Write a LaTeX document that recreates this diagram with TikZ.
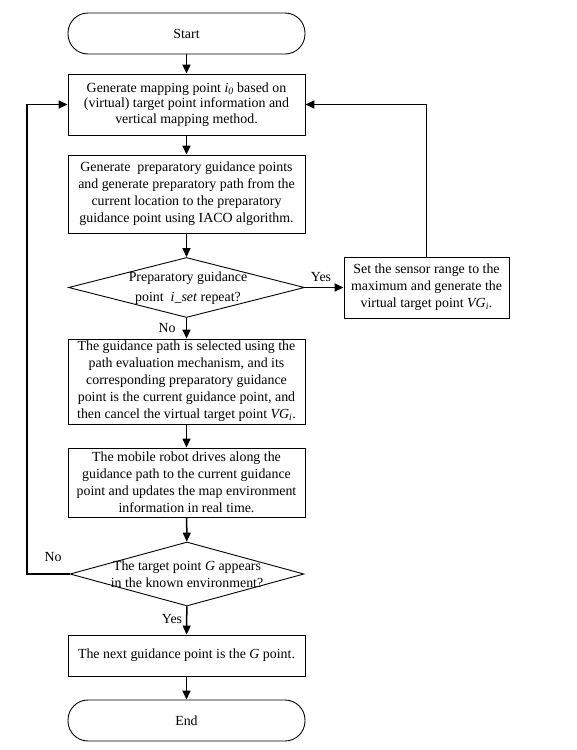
\documentclass[tikz,border=0pt]{standalone}
\usepackage{fontspec}
\setmainfont{Liberation Serif}
\usetikzlibrary{shapes.geometric,arrows.meta}
\newcommand{\iz}{\textit{i}\textsubscript{\textit{0}}}
\newcommand{\vgi}{\textit{VG}\textsubscript{\textit{i}}}
\begin{document}
\begin{tikzpicture}[x=1pt,y=-1pt,
  every node/.style={font=\fontsize{13.9}{17}\selectfont},
  proc/.style={draw,line width=0.9pt,minimum width=237pt,inner sep=0pt,align=center},
  term/.style={draw,line width=0.9pt,minimum width=237pt,minimum height=41pt,rounded corners=20pt,inner sep=0pt},
  dia/.style={draw,line width=0.9pt,diamond,inner sep=0pt,minimum width=236pt,minimum height=60pt},
  lbl/.style={inner sep=0pt,align=center},
  arr/.style={line width=1.5pt,-{Triangle[length=9pt,width=8pt]}}]
\useasboundingbox (0,0) rectangle (576,750);
\node[term] (start) at (186.5,33.5) {Start};
\node[proc,minimum height=61pt,font=\fontsize{13.9}{15.5}\selectfont] (b1) at (186.5,104.5) {Generate mapping point \iz{} based on\\(virtual) target point information and\\vertical mapping method.};
\node[proc,minimum height=78pt] (b2) at (186.5,194) {Generate\ \ preparatory guidance points\\and generate preparatory path from the\\current location to the preparatory\\guidance point using IACO algorithm.};
\node[dia] (d1) at (186.5,287.5) {};
\node[lbl,font=\fontsize{13.9}{20}\selectfont] (d1t) at (188,288) {Preparatory guidance\\point\ \ \textit{i\_set} repeat?};
\node[proc,minimum width=165pt,minimum height=61pt] (rb) at (426.5,287.5) {Set the sensor range to the\\maximum and generate the\\virtual target point \vgi.};
\node[proc,minimum height=85pt] (b3) at (186.5,381.5) {The guidance path is selected using the\\path evaluation mechanism, and its\\corresponding preparatory guidance\\point is the current guidance point, and\\then cancel the virtual target point \vgi.};
\node[proc,minimum height=69pt] (b4) at (186.5,482.5) {The mobile robot drives along the\\guidance path to the current guidance\\point and updates the map environment\\information in real time.};
\node[dia,minimum width=234pt,minimum height=64pt] (d2) at (187,574) {};
\node[lbl] (d2t) at (187,574.5) {The target point \textit{G} appears\\in the known environment?};
\node[proc,minimum height=41pt] (b5) at (186.5,655.5) {The next guidance point is the \textit{G} point.};
\node[term] (end) at (186.5,720.5) {End};
\coordinate (lx) at (27,0);
\node[lbl] (yes1) at (321,277) {Yes};
\node[lbl] (no1) at (167,328) {No};
\node[lbl] (no2) at (53,557) {No};
\node[lbl] (yes2) at (172,619) {Yes};
\draw[arr] (start) -- (b1);
\draw[arr] (b1) -- (b2);
\draw[arr] (b2) -- (d1);
\draw[arr] (d1) -- (b3);
\draw[arr] (b3) -- (b4);
\draw[arr] (b4) -- (d2);
\draw[arr] (d2) -- (b5);
\draw[arr] (b5) -- (end);
\draw[arr] (d1.east) -- (rb.west);
\draw[arr] (rb.north) |- (b1.east);
\draw[arr] (d2.west) -- (d2.west -| lx) -- (lx |- b1.west) -- (b1.west);
\end{tikzpicture}
\end{document}
